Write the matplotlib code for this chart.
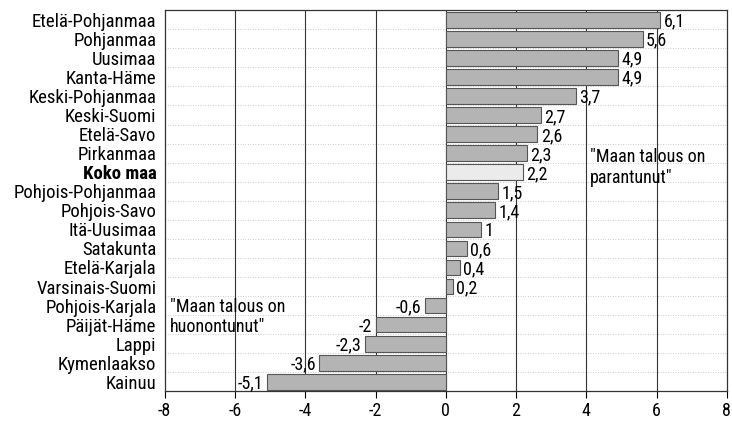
import matplotlib.pyplot as plt
import numpy as np

regions = ['Etelä-Pohjanmaa', 'Pohjanmaa', 'Uusimaa', 'Kanta-Häme', 'Keski-Pohjanmaa',
           'Keski-Suomi', 'Etelä-Savo', 'Pirkanmaa', 'Koko maa', 'Pohjois-Pohjanmaa',
           'Pohjois-Savo', 'Itä-Uusimaa', 'Satakunta', 'Etelä-Karjala', 'Varsinais-Suomi',
           'Pohjois-Karjala', 'Päijät-Häme', 'Lappi', 'Kymenlaakso', 'Kainuu']
values = [6.1, 5.6, 4.9, 4.9, 3.7, 2.7, 2.6, 2.3, 2.2, 1.5,
          1.4, 1, 0.6, 0.4, 0.2, -0.6, -2, -2.3, -3.6, -5.1]
xticks = [-8, -6, -4, -2, 0, 2, 4, 6, 8]

plt.rcParams['font.family'] = ['Roboto Condensed', 'DejaVu Sans']

fig = plt.figure(figsize=(7.32, 4.24), dpi=100)
ax = fig.add_axes([0.225, 0.077, 0.768, 0.899])

y = np.arange(len(regions))
colors = ['#ebebeb' if r == 'Koko maa' else '#b4b4b4' for r in regions]
ax.barh(y, values, height=0.82, color=colors, edgecolor='#555555', linewidth=0.8, zorder=3)

# arvot palkkien päähän
for yi, v in zip(y, values):
    txt = ('%g' % v).replace('.', ',')
    if v >= 0:
        ax.text(v + 0.1, yi + 0.1, txt, ha='left', va='center', fontsize=13, zorder=4)
    else:
        ax.text(v - 0.1, yi + 0.1, txt, ha='right', va='center', fontsize=13, zorder=4)

ax.text(4.1, 7.75, '"Maan talous on\nparantunut"', ha='left', va='center',
        fontsize=13, linespacing=1.2, zorder=4)
ax.text(-7.85, 15.6, '"Maan talous on\nhuonontunut"', ha='left', va='center',
        fontsize=13, linespacing=1.2, zorder=4)

ax.set_xlim(-8, 8)
ax.set_ylim(len(regions) - 0.5, -0.5)
ax.set_xticks(xticks)
ax.set_xticklabels([str(t) for t in xticks], fontsize=13)
ax.set_yticks(y)
ax.set_yticklabels(regions, fontsize=13.5)
for lbl in ax.get_yticklabels():
    if lbl.get_text() == 'Koko maa':
        lbl.set_fontweight('bold')
ax.tick_params(axis='y', length=0, pad=6)
ax.tick_params(axis='x', length=5, direction='out', width=0.8, pad=3)

for t in xticks[1:-1]:
    ax.axvline(t, color='#333333', linewidth=0.8, zorder=2)
for b in np.arange(0.5, len(regions) - 0.5, 1):
    ax.axhline(b, color='#bbbbbb', linewidth=0.6, linestyle=(0, (1, 2)), zorder=1)

for s in ax.spines.values():
    s.set_color('#333333')
    s.set_linewidth(0.9)

plt.savefig('out.png', dpi=100)
